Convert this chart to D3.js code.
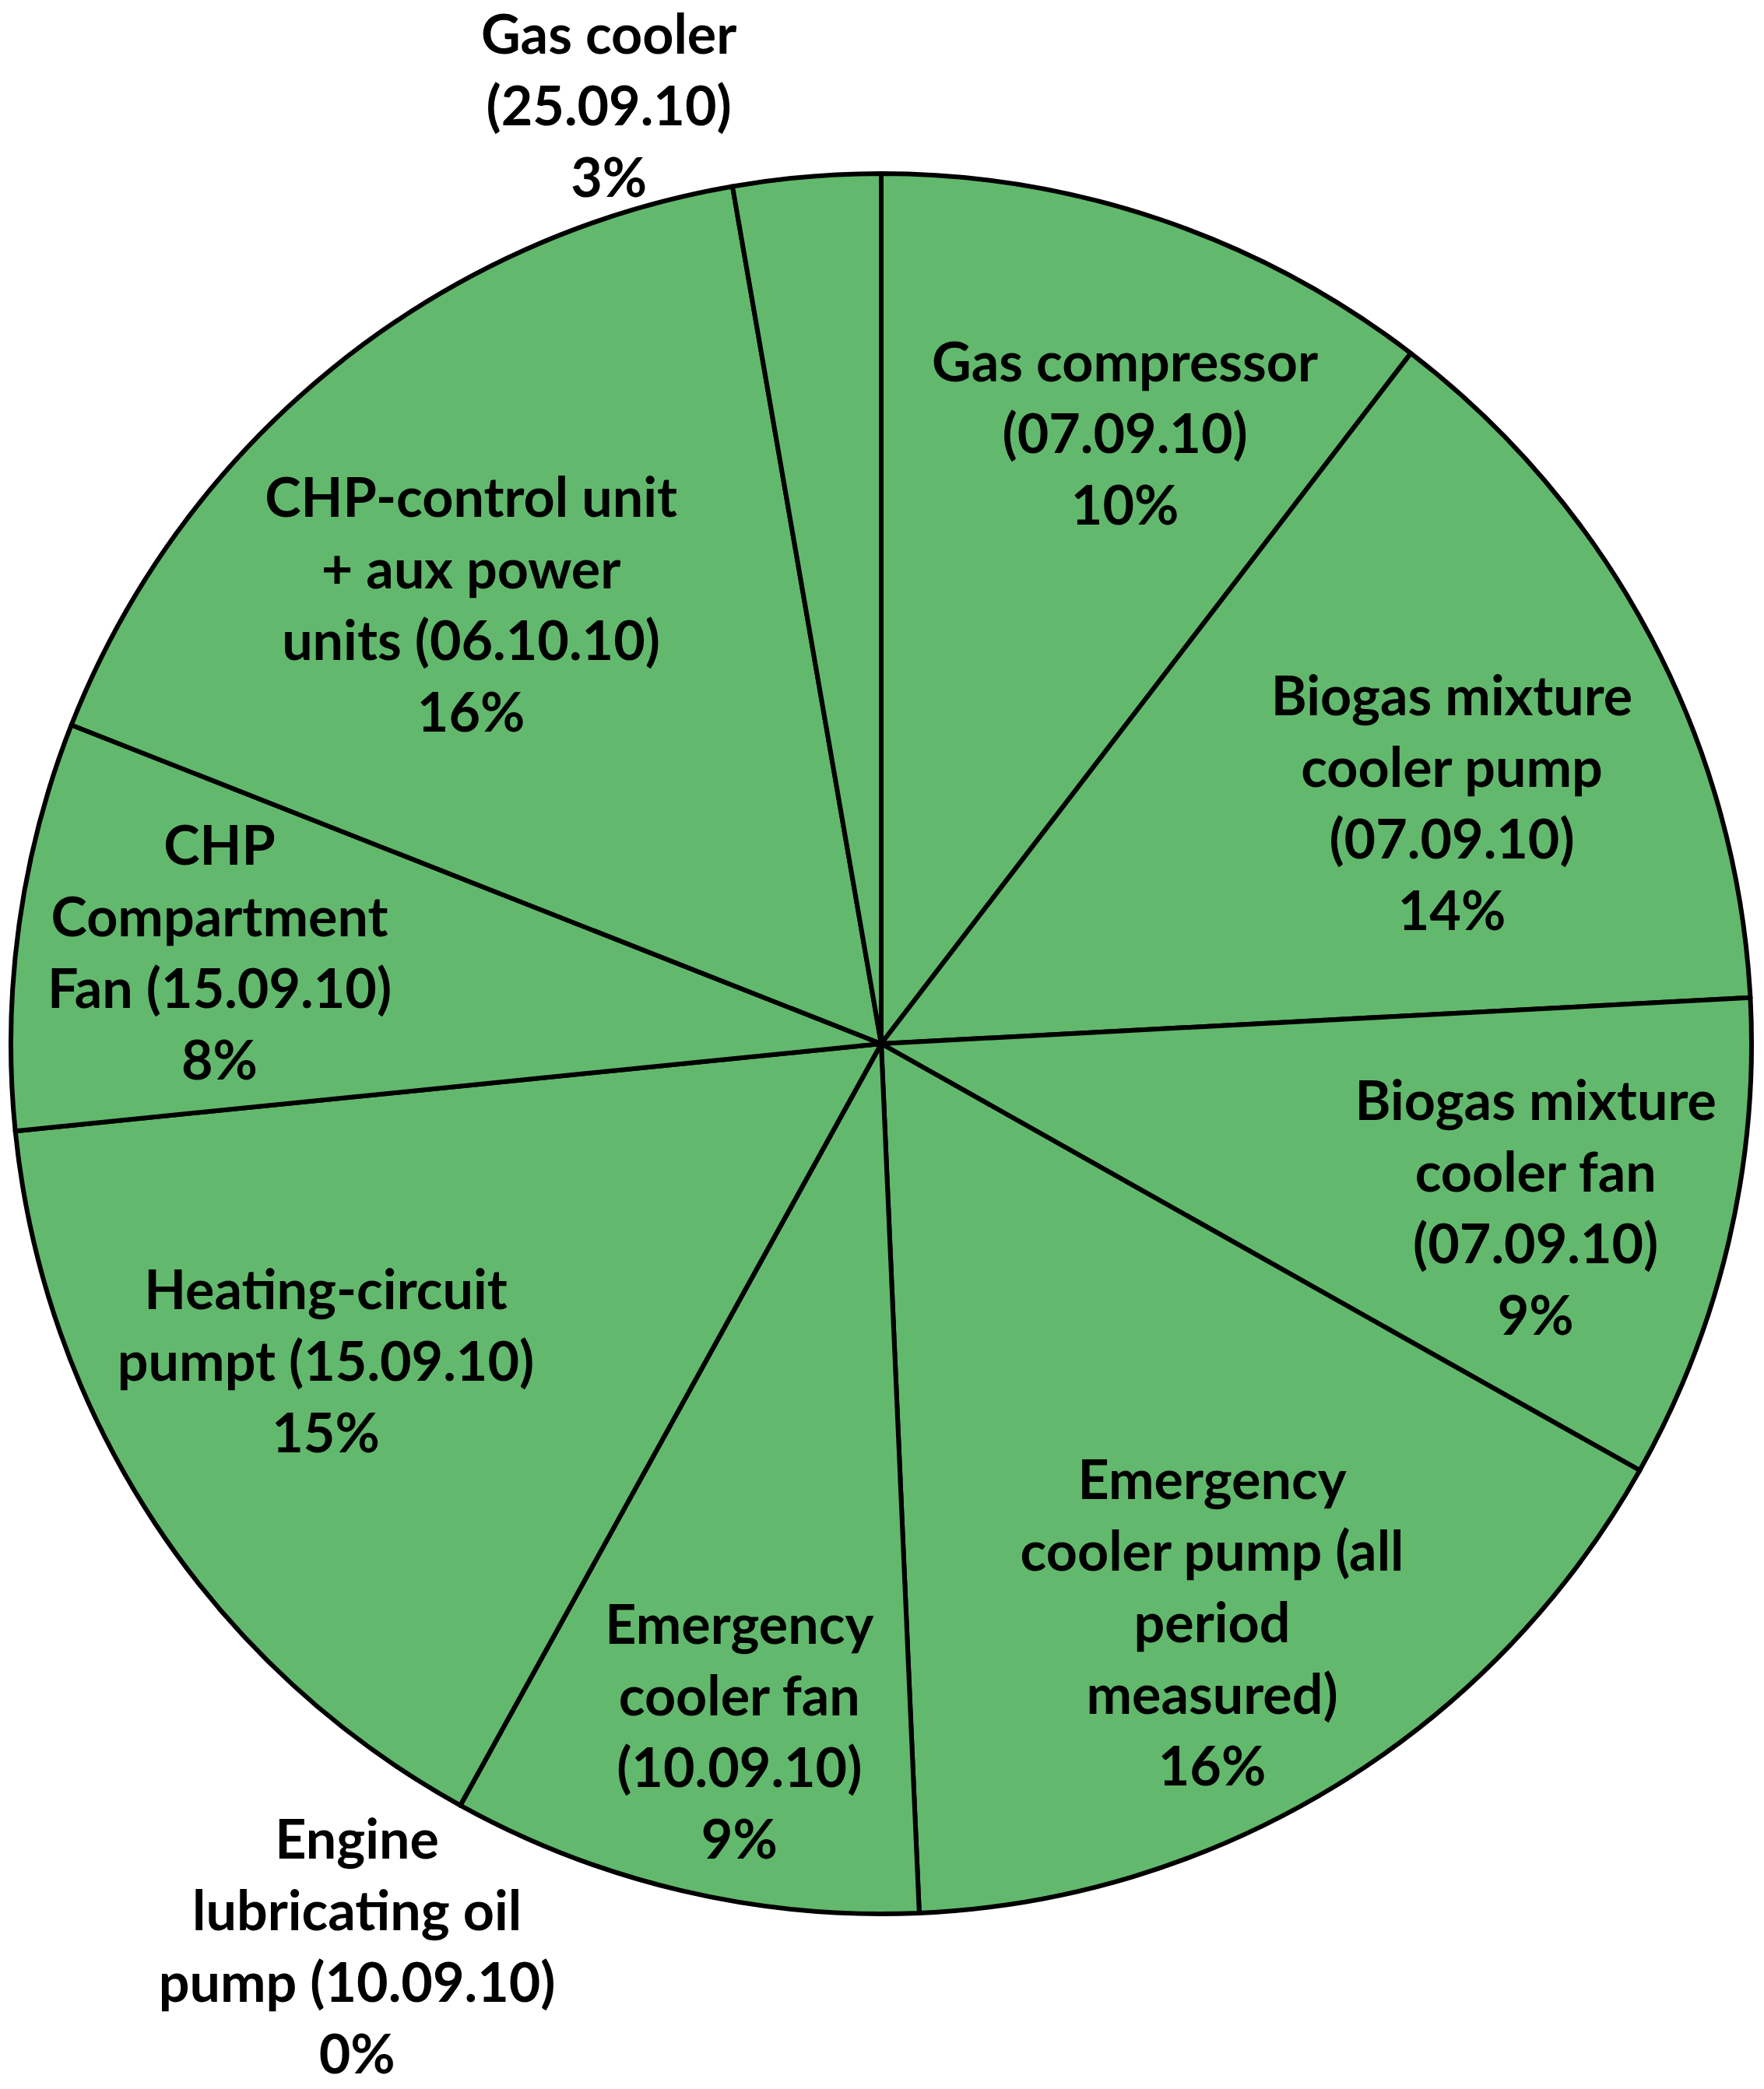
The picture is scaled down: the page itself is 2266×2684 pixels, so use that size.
<!DOCTYPE html>
<html>
<head>
<meta charset="utf-8">
<script src="https://cdn.jsdelivr.net/npm/d3@7"></script>
<style>
  body { margin: 0; background: #fff; }
  #chart text { font-family: Lato, "Open Sans", sans-serif; font-weight: bold; fill: #000; }
</style>
</head>
<body>
<div id="chart"></div>
<script>
(function(d3) {
  'use strict';

  // categories, with the line breaks used in the data labels
  var categories = [
    'Gas compressor\n(07.09.10)',
    'Biogas mixture\ncooler pump\n(07.09.10)',
    'Biogas mixture\ncooler fan\n(07.09.10)',
    'Emergency\ncooler pump (all\nperiod\nmeasured)',
    'Emergency\ncooler fan\n(10.09.10)',
    'Engine\nlubricating oil\npump (10.09.10)',
    'Heating-circuit\npumpt (15.09.10)',
    'CHP\nCompartment\nFan (15.09.10)',
    'CHP-control unit\n+ aux power\nunits (06.10.10)',
    'Gas cooler\n(25.09.10)'
  ];

  // share of consumption, percent
  var shares = [10.4, 13.73, 8.99, 16.13, 8.72, 0, 15.35, 7.56, 16.28, 2.73];

  var width = 2266;
  var height = 2684;
  var cx = 1132;
  var cy = 1341;
  var radius = 1118;
  var fontSize = 70;
  var lineHeight = 92;

  // label placement: inside labels sit on a ring, small slices go outside
  var insideRadius = 850;
  var outsideRadius = radius + 140;
  var nudge = [[40, 22], [-19, 88], [13, 19], [-20, 21], [12, 58],
               [-65, 60], [-4, -59], [-8, 1], [10, 96], [-242, 50]];

  var dataset = categories.map(function(c, i) {
    return { label: c, value: shares[i], idx: i };
  });

  var svg = d3.select('#chart')
    .append('svg')
    .attr('width', width)
    .attr('height', height)
    .append('g')
    .attr('transform', 'translate(' + cx + ',' + cy + ')');

  var pie = d3.pie()
    .value(function(d) { return d.value; })
    .sort(null);

  var arc = d3.arc()
    .innerRadius(0)
    .outerRadius(radius);

  var arcs = pie(dataset);

  svg.selectAll('path')
    .data(arcs)
    .enter()
    .append('path')
    .attr('d', arc)
    .attr('fill', '#62b96d')
    .attr('stroke', '#000')
    .attr('stroke-width', 6)
    .attr('stroke-linejoin', 'round');

  var label = svg.selectAll('.label')
    .data(arcs)
    .enter()
    .append('text')
    .attr('class', 'label')
    .attr('font-size', fontSize)
    .attr('text-anchor', 'middle')
    .attr('transform', function(d) {
      var small = d.data.value < 5;
      var r = small ? outsideRadius : insideRadius;
      var a = (d.startAngle + d.endAngle) / 2;
      var n = nudge[d.data.idx];
      var x = r * Math.sin(a) + n[0];
      var y = -r * Math.cos(a) + n[1];
      return 'translate(' + x + ',' + y + ')';
    });

  label.each(function(d) {
    var lines = d.data.label.split('\n');
    lines.push(Math.round(d.data.value) + '%');
    var t = d3.select(this);
    var n = lines.length;
    lines.forEach(function(line, i) {
      t.append('tspan')
        .attr('x', 0)
        .attr('y', (i - (n - 1) / 2) * lineHeight)
        .attr('dy', '0.34em')
        .text(line);
    });
  });

})(window.d3);
</script>
</body>
</html>
